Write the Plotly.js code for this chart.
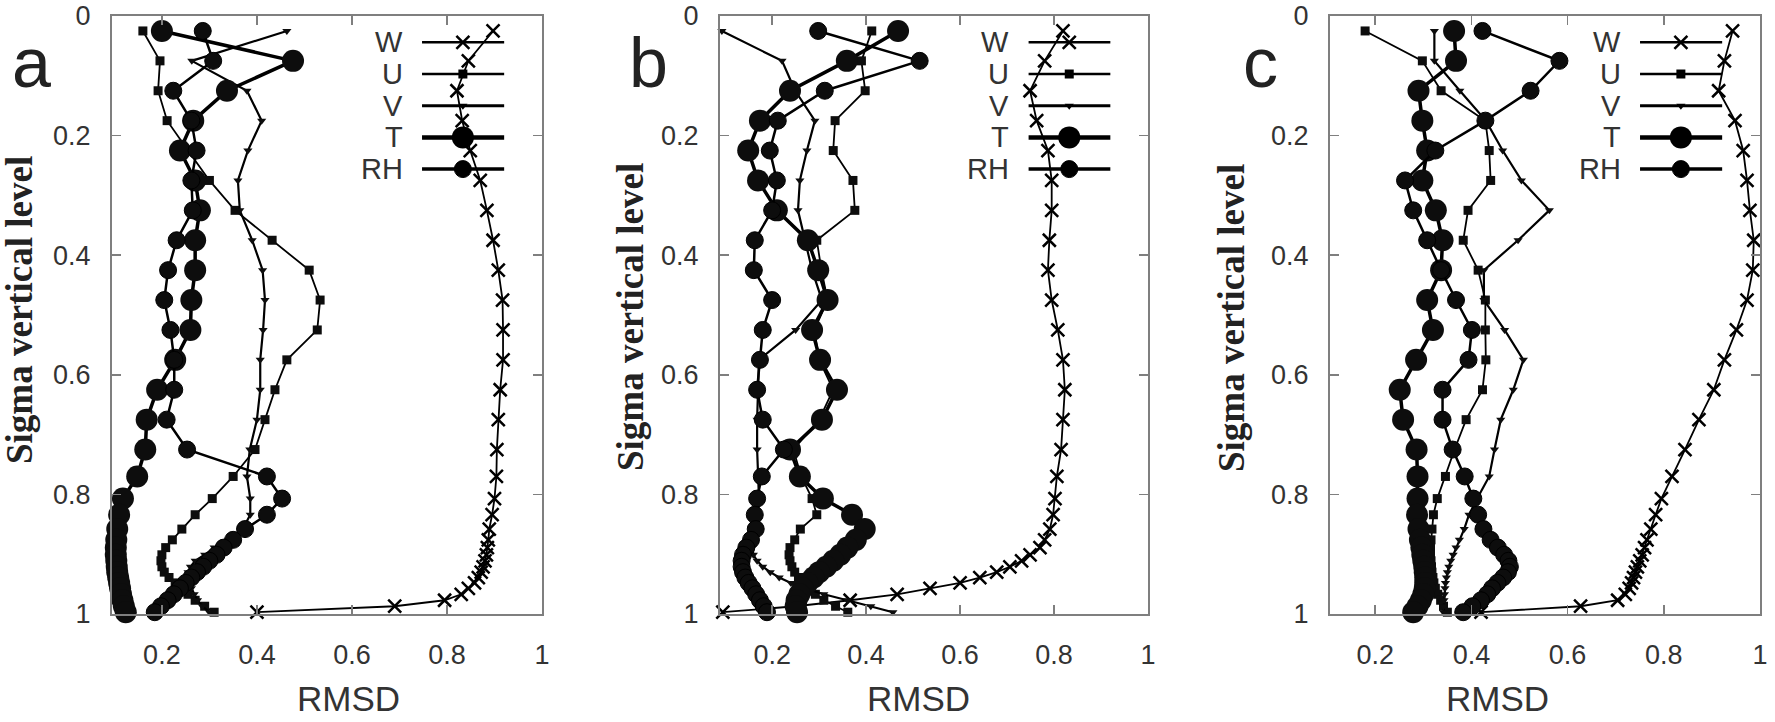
<!DOCTYPE html>
<html>
<head>
<meta charset="utf-8">
<script src="https://cdn.plot.ly/plotly-3.0.1.min.js"></script>
<style>
  html, body { margin: 0; padding: 0; background: #fff; }
  #chart { width: 1775px; height: 722px; }
</style>
</head>
<body>
<div id="chart"></div>
<script>
// sigma levels shared by every profile
const sigma = [0.025, 0.075, 0.125, 0.175, 0.225, 0.275, 0.325, 0.375, 0.425, 0.475,
  0.525, 0.575, 0.625, 0.675, 0.725, 0.77, 0.807, 0.834, 0.858, 0.876,
  0.889, 0.901, 0.911, 0.921, 0.93, 0.939, 0.948, 0.957, 0.967, 0.977, 0.987, 0.997];

const seriesNames = ["W", "U", "V", "T", "RH"];
const panelLabels = ["a", "b", "c"];
const xTicks = [0.2, 0.4, 0.6, 0.8, 1];
const yTicks = [0, 0.2, 0.4, 0.6, 0.8, 1];

// panel a
const wA = [0.897, 0.845, 0.821, 0.832, 0.849, 0.870, 0.884, 0.897, 0.908, 0.917, 0.918, 0.918, 0.912, 0.908, 0.905, 0.904,
  0.900, 0.895, 0.889, 0.887, 0.885, 0.883, 0.880, 0.876, 0.872, 0.866, 0.858, 0.845, 0.830, 0.795, 0.69, 0.40];
const uA = [0.16, 0.196, 0.192, 0.211, 0.255, 0.30, 0.354, 0.432, 0.51, 0.533, 0.527, 0.463, 0.438, 0.417, 0.396, 0.35,
  0.306, 0.27, 0.242, 0.222, 0.208, 0.2, 0.198, 0.2, 0.205, 0.215, 0.228, 0.24, 0.255, 0.27, 0.29, 0.31];
const vA = [0.463, 0.263, 0.379, 0.41, 0.381, 0.36, 0.364, 0.39, 0.412, 0.417, 0.413, 0.407, 0.407, 0.4, 0.385, 0.379,
  0.386, 0.386, 0.37, 0.34, 0.31, 0.29, 0.27, 0.26, 0.255, 0.255, 0.258, 0.262, 0.268, 0.275, 0.285, 0.3];
const tA = [0.200, 0.476, 0.337, 0.266, 0.238, 0.27, 0.28, 0.27, 0.27, 0.262, 0.26, 0.228, 0.19, 0.168, 0.165, 0.148,
  0.118, 0.110, 0.106, 0.104, 0.103, 0.103, 0.104, 0.105, 0.106, 0.108, 0.110, 0.112, 0.114, 0.117, 0.120, 0.124];
const rhA = [0.286, 0.308, 0.224, 0.262, 0.273, 0.262, 0.265, 0.231, 0.213, 0.205, 0.218, 0.226, 0.226, 0.21, 0.253, 0.421,
  0.453, 0.421, 0.375, 0.35, 0.33, 0.315, 0.3, 0.287, 0.274, 0.262, 0.25, 0.238, 0.225, 0.212, 0.198, 0.185];

// panel b
const wB = [0.819, 0.78, 0.749, 0.763, 0.787, 0.795, 0.795, 0.79, 0.787, 0.795, 0.808, 0.819, 0.823, 0.819, 0.815, 0.806,
  0.802, 0.798, 0.791, 0.78, 0.77, 0.749, 0.731, 0.706, 0.678, 0.642, 0.6, 0.536, 0.466, 0.366, 0.25, 0.095];
const uB = [0.412, 0.39, 0.398, 0.334, 0.33, 0.372, 0.376, 0.295, 0.305, 0.318, 0.29, 0.3, 0.33, 0.3, 0.245, 0.262,
  0.285, 0.295, 0.26, 0.248, 0.238, 0.236, 0.238, 0.242, 0.248, 0.256, 0.266, 0.278, 0.292, 0.31, 0.335, 0.361];
const vB = [0.093, 0.221, 0.249, 0.291, 0.274, 0.259, 0.255, 0.27, 0.285, 0.306, 0.25, 0.172, 0.17, 0.168, 0.168, 0.17,
  0.172, 0.17, 0.168, 0.162, 0.158, 0.16, 0.168, 0.18, 0.196, 0.215, 0.24, 0.27, 0.31, 0.36, 0.41, 0.457];
const tB = [0.468, 0.359, 0.238, 0.174, 0.149, 0.17, 0.21, 0.276, 0.298, 0.318, 0.285, 0.302, 0.338, 0.306, 0.238, 0.259,
  0.308, 0.37, 0.397, 0.378, 0.36, 0.345, 0.33, 0.315, 0.3, 0.288, 0.275, 0.265, 0.258, 0.252, 0.25, 0.253];
const rhB = [0.298, 0.514, 0.312, 0.212, 0.195, 0.21, 0.2, 0.163, 0.161, 0.2, 0.18, 0.174, 0.168, 0.18, 0.225, 0.178,
  0.168, 0.163, 0.165, 0.155, 0.145, 0.138, 0.135, 0.135, 0.138, 0.143, 0.15, 0.158, 0.166, 0.174, 0.182, 0.189];

// panel c
const wC = [0.943, 0.926, 0.914, 0.948, 0.965, 0.973, 0.979, 0.987, 0.985, 0.973, 0.951, 0.926, 0.904, 0.873, 0.844, 0.817,
  0.795, 0.783, 0.773, 0.765, 0.76, 0.755, 0.75, 0.745, 0.741, 0.737, 0.733, 0.728, 0.72, 0.704, 0.627, 0.42];
const uC = [0.179, 0.298, 0.337, 0.429, 0.437, 0.44, 0.393, 0.383, 0.414, 0.429, 0.429, 0.43, 0.423, 0.389, 0.365, 0.346,
  0.329, 0.321, 0.318, 0.316, 0.315, 0.315, 0.316, 0.317, 0.318, 0.32, 0.322, 0.325, 0.33, 0.336, 0.342, 0.35];
const vC = [0.323, 0.323, 0.376, 0.43, 0.465, 0.504, 0.562, 0.497, 0.426, 0.426, 0.469, 0.508, 0.487, 0.461, 0.448, 0.437,
  0.412, 0.395, 0.385, 0.375, 0.368, 0.362, 0.357, 0.353, 0.35, 0.348, 0.346, 0.345, 0.344, 0.343, 0.342, 0.342];
const tC = [0.364, 0.368, 0.29, 0.298, 0.308, 0.298, 0.326, 0.34, 0.337, 0.308, 0.32, 0.285, 0.251, 0.258, 0.286, 0.288,
  0.288, 0.287, 0.29, 0.293, 0.296, 0.298, 0.3, 0.302, 0.303, 0.304, 0.304, 0.303, 0.3, 0.295, 0.288, 0.279];
const rhC = [0.423, 0.583, 0.523, 0.429, 0.325, 0.262, 0.279, 0.308, 0.337, 0.368, 0.401, 0.394, 0.34, 0.34, 0.361, 0.386,
  0.404, 0.414, 0.425, 0.44, 0.455, 0.468, 0.477, 0.48, 0.476, 0.466, 0.454, 0.443, 0.433, 0.42, 0.402, 0.383];

const panelSeries = [
  [wA, uA, vA, tA, rhA],
  [wB, uB, vB, tB, rhB],
  [wC, uC, vC, tC, rhC],
];

// ---- styling / geometry ----
const W = 1775, H = 722;
const plotTop = 16, plotBottom = 614;
const panelLeft = [112, 720, 1330];
const panelRight = [542, 1148, 1760];
const xRanges = [[0.095, 1], [0.089, 1], [0.106, 1]];
const yTitleX = [19, 630, 1231];
const yTitleY = [310, 317, 318];
const rmsdX = [348, 918, 1497];
const rmsdY = 698;
const letterX = [31, 648, 1260];

const styles = {
  W: { symbol: "x-thin", size: 13, lw: 1.8, mlw: 2.5, legLw: 2.5 },
  U: { symbol: "square", size: 9, lw: 1.8, mlw: 0, legLw: 2.5 },
  V: { symbol: "triangle-down", size: 8, lw: 2.2, mlw: 0, legLw: 3 },
  T: { symbol: "circle", size: 22, lw: 3.5, mlw: 0, legLw: 4.5 },
  RH: { symbol: "circle", size: 17, lw: 2.5, mlw: 1, legLw: 3.5 },
};
const legendRows = [0.044, 0.097, 0.150, 0.203, 0.256];
const legendFrac = [0.721, 0.816, 0.912];
const legendTextFrac = 0.681;

const frameColor = "#7f7f7f";
const textColor = "#333333";
const sans = "Liberation Sans, Arial, sans-serif";

const traces = [];
const layout = {
  width: W,
  height: H,
  margin: { l: 0, r: 0, t: 0, b: 0 },
  paper_bgcolor: "#ffffff",
  plot_bgcolor: "#ffffff",
  showlegend: false,
  annotations: [],
};

panelSeries.forEach((series, p) => {
  const sfx = p === 0 ? "" : String(p + 1);
  const [r0, r1] = xRanges[p];

  layout["xaxis" + sfx] = {
    domain: [panelLeft[p] / W, panelRight[p] / W],
    range: xRanges[p],
    anchor: "y" + sfx,
    tickvals: xTicks,
    ticks: "inside",
    ticklen: 9,
    tickwidth: 1.5,
    tickcolor: frameColor,
    showline: true,
    linecolor: frameColor,
    linewidth: 2,
    mirror: "ticks",
    showgrid: false,
    zeroline: false,
    ticklabelstandoff: 16,
    tickfont: { family: sans, size: 27, color: textColor },
  };
  layout["yaxis" + sfx] = {
    domain: [1 - plotBottom / H, 1 - plotTop / H],
    range: [1, 0],
    anchor: "x" + sfx,
    tickvals: yTicks,
    ticks: "inside",
    ticklen: 9,
    tickwidth: 1.5,
    tickcolor: frameColor,
    showline: true,
    linecolor: frameColor,
    linewidth: 2,
    mirror: "ticks",
    showgrid: false,
    zeroline: false,
    ticklabelstandoff: 14,
    tickfont: { family: sans, size: 27, color: textColor },
  };

  series.forEach((values, k) => {
    const st = styles[seriesNames[k]];
    traces.push({
      type: "scatter",
      mode: "lines+markers",
      xaxis: "x" + sfx,
      yaxis: "y" + sfx,
      x: values,
      y: sigma,
      cliponaxis: false,
      line: { color: "#000", width: st.lw },
      marker: {
        symbol: st.symbol,
        size: st.size,
        opacity: 1,
        color: st.symbol === "x-thin" ? "#000" : "#0d0d0d",
        line: { color: "#000", width: st.mlw },
      },
      hoverinfo: "skip",
    });

    // legend key: line sample with the series marker in the middle
    const lx = legendFrac.map((f) => r0 + f * (r1 - r0));
    traces.push({
      type: "scatter",
      mode: "lines+markers",
      xaxis: "x" + sfx,
      yaxis: "y" + sfx,
      x: lx,
      y: lx.map(() => legendRows[k]),
      cliponaxis: false,
      line: { color: "#000", width: st.legLw },
      marker: {
        symbol: st.symbol,
        size: [0, st.size, 0],
        opacity: 1,
        color: "#000",
        line: { color: "#000", width: st.mlw },
      },
      hoverinfo: "skip",
    });

    layout.annotations.push({
      xref: "x" + sfx + " domain",
      yref: "paper",
      x: legendTextFrac,
      y: 1 - (plotTop + legendRows[k] * (plotBottom - plotTop)) / H,
      xanchor: "right",
      yanchor: "middle",
      showarrow: false,
      text: seriesNames[k],
      font: { family: sans, size: 29, color: textColor },
    });
  });

  // panel letter
  layout.annotations.push({
    xref: "paper", yref: "paper",
    x: letterX[p] / W, y: 1 - 63 / H,
    xanchor: "center", yanchor: "middle",
    showarrow: false,
    text: panelLabels[p],
    font: { family: sans, size: 70, color: "#222" },
  });
  // y axis title
  layout.annotations.push({
    xref: "paper", yref: "paper",
    x: yTitleX[p] / W, y: 1 - yTitleY[p] / H,
    xanchor: "center", yanchor: "middle",
    textangle: -90,
    showarrow: false,
    text: "Sigma vertical level",
    font: { family: "Liberation Serif, Times New Roman, serif", size: 37, color: "#222", weight: "bold" },
  });
  // x axis title
  layout.annotations.push({
    xref: "paper", yref: "paper",
    x: rmsdX[p] / W, y: 1 - rmsdY / H,
    xanchor: "center", yanchor: "middle",
    showarrow: false,
    text: "RMSD",
    font: { family: sans, size: 35, color: textColor },
  });
});

Plotly.newPlot("chart", traces, layout, { staticPlot: true, displayModeBar: false });
</script>
</body>
</html>
